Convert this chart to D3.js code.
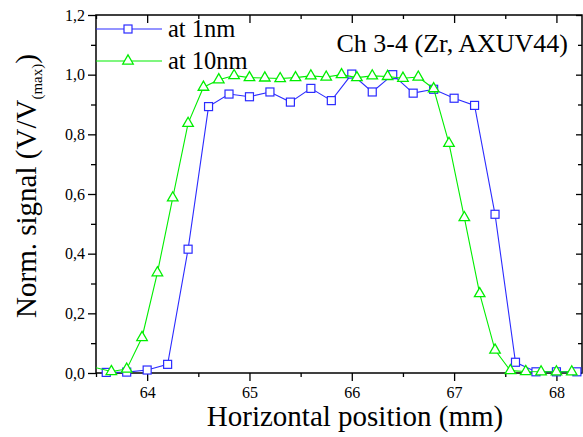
<!DOCTYPE html>
<html>
<head>
<meta charset="utf-8">
<script src="https://cdn.jsdelivr.net/npm/d3@7"></script>
<style>
  html, body { margin: 0; padding: 0; background: #fff; }
  svg { display: block; font-family: "Liberation Serif", "Times New Roman", serif; }
</style>
</head>
<body>
<svg id="chart" width="583" height="437"></svg>
<script>
// Scan at 1 nm: positions (mm) and normalised signal
const pos1nm = [63.6, 63.8, 64.0, 64.2, 64.4, 64.6, 64.8, 65.0, 65.2, 65.4, 65.6, 65.8,
                66.0, 66.2, 66.4, 66.6, 66.8, 67.0, 67.2, 67.4, 67.6, 67.8, 68.0, 68.2];
const sig1nm = [0.002, 0.003, 0.010, 0.029, 0.415, 0.893, 0.935, 0.926, 0.942, 0.908, 0.954, 0.913,
                1.002, 0.942, 1.000, 0.938, 0.951, 0.921, 0.897, 0.532, 0.036, 0.004, 0.004, 0.004];

// Scan at 10 nm
const pos10nm = [63.35, 63.65, 63.8, 63.95, 64.1, 64.25, 64.4, 64.55, 64.7, 64.85, 65.0, 65.15,
                 65.3, 65.45, 65.6, 65.75, 65.9, 66.05, 66.2, 66.35, 66.5, 66.65, 66.8, 66.95,
                 67.1, 67.25, 67.4, 67.55, 67.7, 67.85, 68.0, 68.15];
const sig10nm = [0.030, 0.005, 0.013, 0.119, 0.336, 0.587, 0.837, 0.958, 0.983, 0.997, 0.990, 0.989,
                 0.987, 0.990, 0.996, 0.992, 1.000, 0.990, 0.996, 0.994, 0.988, 0.992, 0.953, 0.770,
                 0.521, 0.266, 0.077, 0.008, 0.005, 0.004, 0.004, 0.004];

const xMajor = [64, 65, 66, 67, 68];
const xMinor = [63.5, 64.5, 65.5, 66.5, 67.5];
const yMajor = [0, 0.2, 0.4, 0.6, 0.8, 1.0, 1.2];
const yMinor = [0.1, 0.3, 0.5, 0.7, 0.9, 1.1];
const seriesNames = ["at 1nm", "at 10nm"];
const blue = "#2b2bff", green = "#00ee00";

const W = 583, H = 437;
const m = { left: 96, right: 1, top: 15, bottom: 64 };
const svg = d3.select("#chart");

const x = d3.scaleLinear().domain([63.5, 68.25]).range([m.left, W - m.right]);
const y = d3.scaleLinear().domain([0, 1.2]).range([H - m.bottom, m.top]);
const fmtY = v => d3.format(".1f")(v).replace(".", ",");

svg.append("clipPath").attr("id", "plotclip")
  .append("rect").attr("x", m.left).attr("y", 0).attr("width", W - m.right - m.left).attr("height", H);

// Axes
const axisStyle = g => {
  g.attr("font-family", null);
  g.select(".domain").remove();
  g.selectAll("line").attr("stroke", "#000").attr("stroke-width", 1.3);
  g.selectAll("text").attr("fill", "#000").attr("font-size", 16);
};

// bottom: major + minor outward
svg.append("g").attr("transform", `translate(0,${H - m.bottom})`)
  .call(d3.axisBottom(x).tickValues(xMajor).tickSize(8).tickPadding(6).tickFormat(d3.format("d")))
  .call(axisStyle);
svg.append("g").attr("transform", `translate(0,${H - m.bottom})`)
  .call(d3.axisBottom(x).tickValues(xMinor).tickSize(4).tickFormat(""))
  .call(axisStyle);
// top: inward
svg.append("g").attr("transform", `translate(0,${m.top})`)
  .call(d3.axisBottom(x).tickValues(xMajor).tickSize(8).tickFormat(""))
  .call(axisStyle);
svg.append("g").attr("transform", `translate(0,${m.top})`)
  .call(d3.axisBottom(x).tickValues(xMinor).tickSize(4).tickFormat(""))
  .call(axisStyle);
// left: outward
svg.append("g").attr("transform", `translate(${m.left},0)`)
  .call(d3.axisLeft(y).tickValues(yMajor).tickSize(8).tickPadding(3).tickFormat(fmtY))
  .call(axisStyle);
svg.append("g").attr("transform", `translate(${m.left},0)`)
  .call(d3.axisLeft(y).tickValues(yMinor).tickSize(5).tickFormat(""))
  .call(axisStyle);
// right: inward
svg.append("g").attr("transform", `translate(${W - m.right},0)`)
  .call(d3.axisLeft(y).tickValues(yMajor).tickSize(6).tickFormat(""))
  .call(axisStyle);
svg.append("g").attr("transform", `translate(${W - m.right},0)`)
  .call(d3.axisLeft(y).tickValues(yMinor).tickSize(4).tickFormat(""))
  .call(axisStyle);

// Frame
svg.append("rect").attr("x", m.left).attr("y", m.top)
  .attr("width", W - m.right - m.left).attr("height", H - m.bottom - m.top)
  .attr("fill", "none").attr("stroke", "#000").attr("stroke-width", 1.5);

// Series
const line = d3.line().x(d => x(d[0])).y(d => y(d[1]));
const data1 = pos1nm.map((p, i) => [p, sig1nm[i]]);
const data10 = pos10nm.map((p, i) => [p, sig10nm[i]]);
const plot = svg.append("g").attr("clip-path", "url(#plotclip)");

plot.append("path").datum(data1).attr("d", line)
  .attr("fill", "none").attr("stroke", blue).attr("stroke-width", 1.1);
plot.selectAll("rect.sq").data(data1).join("rect").attr("class", "sq")
  .attr("x", d => x(d[0]) - 4).attr("y", d => y(d[1]) - 4)
  .attr("width", 8).attr("height", 8)
  .attr("fill", "#fff").attr("stroke", blue).attr("stroke-width", 1.2);

const tri = d3.symbol().type(d3.symbolTriangle).size(48);
plot.append("path").datum(data10).attr("d", line)
  .attr("fill", "none").attr("stroke", green).attr("stroke-width", 1.1);
plot.selectAll("path.tri").data(data10).join("path").attr("class", "tri")
  .attr("d", tri)
  .attr("transform", d => `translate(${x(d[0])},${y(d[1])})`)
  .attr("fill", "#fff").attr("stroke", green).attr("stroke-width", 1.3);

// Legend
const leg = svg.append("g");
[[blue, "sq"], [green, "tri"]].forEach(([c, shape], i) => {
  const ly = 29 + i * 32;
  leg.append("line").attr("x1", m.left).attr("x2", 162).attr("y1", ly).attr("y2", ly)
    .attr("stroke", c).attr("stroke-width", 1.1);
  if (shape === "sq") {
    leg.append("rect").attr("x", 124).attr("y", ly - 4).attr("width", 8).attr("height", 8)
      .attr("fill", "#fff").attr("stroke", c).attr("stroke-width", 1.2);
  } else {
    leg.append("path").attr("d", tri).attr("transform", `translate(128,${ly})`)
      .attr("fill", "#fff").attr("stroke", c).attr("stroke-width", 1.3);
  }
  leg.append("text").attr("x", 168).attr("y", ly + 8).attr("font-size", 24.5)
    .text(seriesNames[i]);
});

// Annotation
svg.append("text").attr("x", 568).attr("y", 52).attr("text-anchor", "end")
  .attr("font-size", 26).text("Ch 3-4 (Zr, AXUV44)");

// Axis titles
svg.append("text").attr("x", 355).attr("y", 426).attr("text-anchor", "middle")
  .attr("font-size", 29).text("Horizontal position (mm)");

const yt = svg.append("text").attr("transform", "translate(36,186) rotate(-90)")
  .attr("text-anchor", "middle").attr("font-size", 29);
yt.append("tspan").text("Norm. signal (V/V");
yt.append("tspan").attr("font-size", 15).attr("dy", 6).text("(max)");
yt.append("tspan").attr("dy", -6).text(")");
</script>
</body>
</html>
